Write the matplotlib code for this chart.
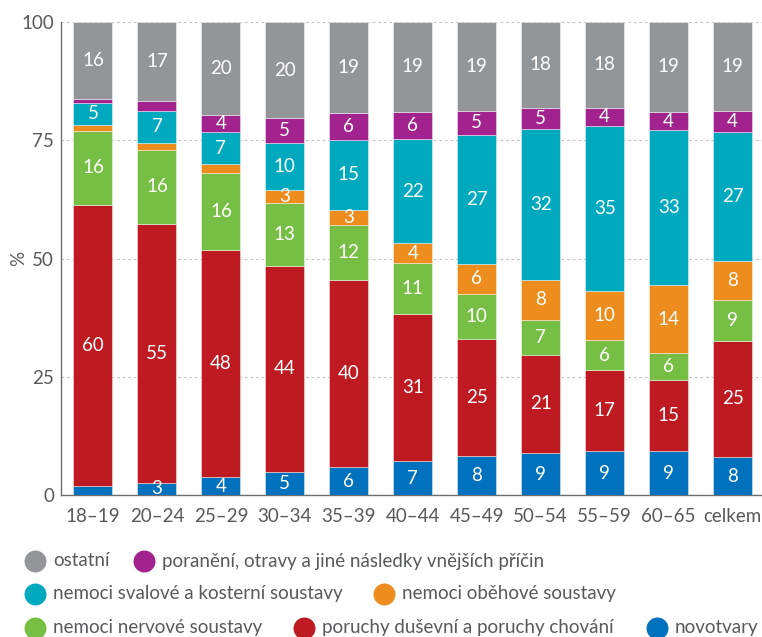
import matplotlib
matplotlib.use('Agg')
import matplotlib.pyplot as plt
import numpy as np

plt.rcParams['font.family'] = ['Lato', 'DejaVu Sans']

# age groups and share of each diagnosis group (%)
groups = ['18–19', '20–24', '25–29', '30–34', '35–39', '40–44',
          '45–49', '50–54', '55–59', '60–65', 'celkem']
novotvary = [1.8, 2.6, 3.7, 4.8, 5.9, 7.1, 8.2, 8.8, 9.3, 9.3, 8.0]
dusevni = [59.5, 54.7, 48.2, 43.7, 39.6, 31.2, 24.8, 20.9, 17.1, 15.0, 24.6]
nervove = [15.7, 15.7, 16.2, 13.3, 11.6, 10.7, 9.6, 7.4, 6.3, 5.7, 8.7]
obehove = [1.3, 1.5, 1.9, 2.6, 3.2, 4.3, 6.2, 8.3, 10.4, 14.3, 8.2]
svalove = [4.6, 6.7, 6.7, 10.1, 14.8, 21.9, 27.3, 31.9, 35.0, 32.8, 27.2]
poraneni = [0.9, 2.0, 3.6, 5.1, 5.6, 5.8, 5.1, 4.6, 3.8, 3.9, 4.4]
ostatni = [16.2, 16.8, 19.7, 20.4, 19.3, 19.0, 18.8, 18.1, 18.1, 19.0, 18.9]

series = [
    (novotvary, '#0071BC', 'novotvary'),
    (dusevni, '#BD1A21', 'poruchy duševní a poruchy chování'),
    (nervove, '#77BF44', 'nemoci nervové soustavy'),
    (obehove, '#EC8D1E', 'nemoci oběhové soustavy'),
    (svalove, '#00A9BE', 'nemoci svalové a kosterní soustavy'),
    (poraneni, '#A2238E', 'poranění, otravy a jiné následky vnějších příčin'),
    (ostatni, '#939598', 'ostatní'),
]

TXT = '#58595B'
FS = 13.5

fig = plt.figure(figsize=(7.62, 6.37), dpi=100)
ax = fig.add_axes([61 / 762, 1 - 495 / 637, 1 - 61 / 762, (495 - 22) / 637])

x = np.arange(len(groups))
bottom = np.zeros(len(groups))
for vals, color, name in series:
    vals = np.array(vals)
    ax.bar(x, vals, 0.61, bottom=bottom, color=color,
           edgecolor=(1, 1, 1, 0.5), linewidth=0.6, zorder=3)
    for xi, b, v in zip(x, bottom, vals):
        if v >= 2.5:
            ax.text(xi, b + v / 2, f'{v:.0f}', ha='center', va='center',
                    color='white', fontsize=FS, zorder=4)
    bottom += vals

ax.set_xlim(-0.5, 10.46)
ax.set_ylim(0, 100)
ax.set_yticks([0, 25, 50, 75, 100])
ax.set_xticks(x)
ax.set_xticklabels(groups)
ax.tick_params(length=0, labelsize=FS, colors=TXT)
ax.tick_params(axis='x', pad=9)
ax.tick_params(axis='y', pad=5)
ax.grid(axis='y', color='#C4C4C4', linestyle=(0, (2.5, 2.5)), linewidth=0.8, zorder=0)
ax.set_axisbelow(True)
for side in ['top', 'right']:
    ax.spines[side].set_visible(False)
for side in ['left', 'bottom']:
    ax.spines[side].set_color('#6D6E70')
    ax.spines[side].set_linewidth(1.0)
ax.set_ylabel('%', fontsize=FS, color=TXT)
ax.yaxis.set_label_coords(-0.048, 0.5)

# legend drawn in pixel space on a full-figure overlay
lg = fig.add_axes([0, 0, 1, 1], zorder=5)
lg.set_xlim(0, 762)
lg.set_ylim(637, 0)
lg.axis('off')
lookup = {name: color for _, color, name in series}
rows = [
    (561, [(35, 'ostatní'), (144, 'poranění, otravy a jiné následky vnějších příčin')]),
    (594, [(35, 'nemoci svalové a kosterní soustavy'), (384, 'nemoci oběhové soustavy')]),
    (628, [(35, 'nemoci nervové soustavy'), (304, 'poruchy duševní a poruchy chování'),
           (657, 'novotvary')]),
]
for y, items in rows:
    for cx, name in items:
        lg.scatter([cx], [y], s=250, color=lookup[name], linewidths=0)
        lg.text(cx + 18, y, name, ha='left', va='center', fontsize=FS, color=TXT)

fig.savefig('out.png', dpi=100)
